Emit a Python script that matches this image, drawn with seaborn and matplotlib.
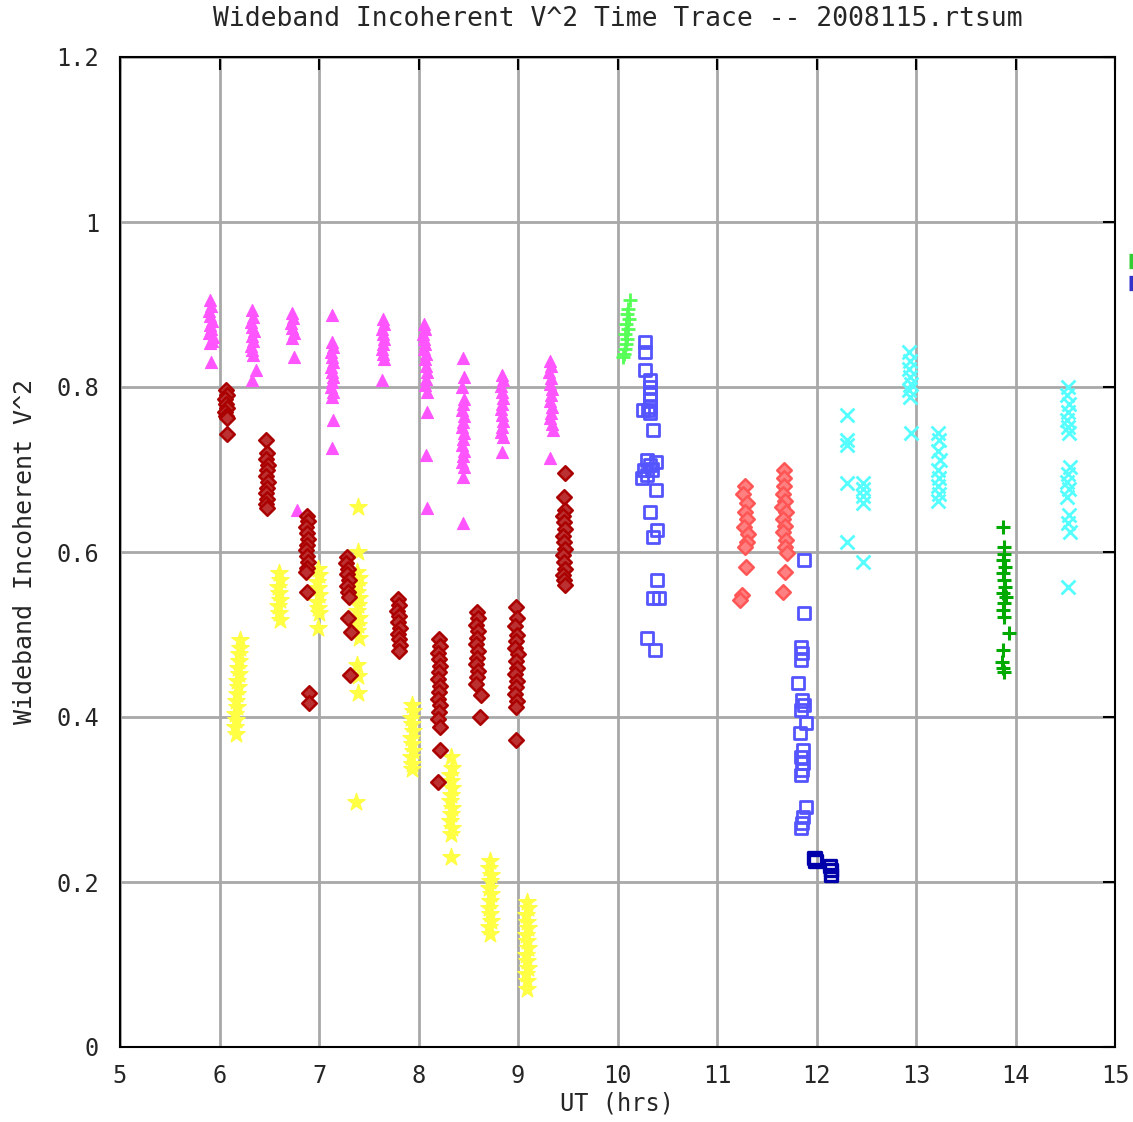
import numpy as np
import pandas as pd
import matplotlib
matplotlib.use("Agg")
import matplotlib.pyplot as plt
from matplotlib.lines import Line2D
import seaborn as sns

# magenta triangles
mag_x = [5.90, 5.91, 5.89, 5.90, 5.92, 5.90, 5.91, 5.89, 5.93, 5.92, 5.90, 5.91,
         6.33, 6.34, 6.32, 6.33, 6.35, 6.33, 6.34, 6.32, 6.33, 6.34, 6.37, 6.33,
         6.73, 6.74, 6.72, 6.73, 6.75, 6.73, 6.75, 6.78,
         7.13, 7.13, 7.14, 7.12, 7.13, 7.14, 7.12, 7.13, 7.14, 7.13, 7.12, 7.14, 7.13, 7.14, 7.13,
         7.64, 7.65, 7.63, 7.64, 7.65, 7.64, 7.63, 7.64, 7.65, 7.63,
         8.06, 8.07, 8.05, 8.06, 8.07, 8.06, 8.08, 8.07, 8.08, 8.09, 8.08, 8.07, 8.09, 8.09, 8.08, 8.09,
         8.45, 8.46, 8.44, 8.46, 8.45, 8.44, 8.46, 8.45, 8.44, 8.46, 8.45, 8.44, 8.46, 8.45, 8.44, 8.46, 8.45, 8.45,
         8.84, 8.85, 8.83, 8.84, 8.85, 8.84, 8.83, 8.84, 8.85, 8.84, 8.83, 8.85, 8.84,
         9.32, 9.33, 9.31, 9.33, 9.32, 9.34, 9.33, 9.32, 9.34, 9.33, 9.32, 9.34, 9.35, 9.32]
mag_y = [0.905, 0.898, 0.892, 0.886, 0.880, 0.875, 0.870, 0.866, 0.861, 0.856, 0.853, 0.830,
         0.893, 0.885, 0.879, 0.873, 0.868, 0.862, 0.856, 0.850, 0.845, 0.839, 0.821, 0.808,
         0.890, 0.884, 0.878, 0.872, 0.866, 0.860, 0.836, 0.651,
         0.887, 0.855, 0.848, 0.842, 0.836, 0.830, 0.824, 0.818, 0.812, 0.806, 0.800, 0.794, 0.788, 0.760, 0.726,
         0.882, 0.876, 0.870, 0.864, 0.858, 0.852, 0.846, 0.840, 0.834, 0.808,
         0.876, 0.870, 0.864, 0.858, 0.852, 0.846, 0.840, 0.834, 0.826, 0.818, 0.810, 0.802, 0.794, 0.770, 0.718, 0.653,
         0.835, 0.812, 0.800, 0.786, 0.779, 0.772, 0.765, 0.758, 0.751, 0.744, 0.737, 0.730, 0.723, 0.716, 0.709, 0.703, 0.691, 0.635,
         0.815, 0.808, 0.801, 0.794, 0.787, 0.780, 0.773, 0.766, 0.759, 0.752, 0.745, 0.739, 0.721,
         0.832, 0.825, 0.818, 0.811, 0.804, 0.797, 0.790, 0.783, 0.776, 0.769, 0.762, 0.755, 0.748, 0.714]

# dark red diamonds
red_x = [6.07, 6.08, 6.06, 6.07, 6.08, 6.06, 6.07, 6.08, 6.08,
         6.47, 6.48, 6.47, 6.49, 6.48, 6.47, 6.49, 6.48, 6.47, 6.48, 6.47, 6.48,
         6.88, 6.89, 6.87, 6.88, 6.89, 6.88, 6.87, 6.88, 6.89, 6.88, 6.87, 6.88, 6.90, 6.90,
         7.28, 7.27, 7.29, 7.28, 7.30, 7.28, 7.29, 7.30, 7.29, 7.32, 7.31,
         7.79, 7.80, 7.78, 7.80, 7.79, 7.81, 7.79, 7.80, 7.81, 7.80,
         8.21, 8.22, 8.20, 8.21, 8.22, 8.21, 8.20, 8.22, 8.21, 8.20, 8.22, 8.21, 8.20, 8.22, 8.22, 8.20,
         8.59, 8.60, 8.58, 8.60, 8.59, 8.58, 8.60, 8.59, 8.58, 8.60, 8.59, 8.58, 8.63, 8.62,
         8.98, 8.99, 8.97, 8.99, 8.98, 8.97, 9.00, 8.98, 8.99, 8.97, 8.99, 8.98, 8.97, 8.99, 8.98, 8.98,
         9.47, 9.46, 9.47, 9.45, 9.46, 9.47, 9.45, 9.46, 9.47, 9.45, 9.46, 9.47, 9.45, 9.46, 9.47]
red_y = [0.796, 0.790, 0.785, 0.780, 0.775, 0.770, 0.765, 0.762, 0.743,
         0.736, 0.720, 0.713, 0.706, 0.699, 0.692, 0.685, 0.678, 0.671, 0.664, 0.658, 0.653,
         0.644, 0.637, 0.630, 0.623, 0.616, 0.609, 0.602, 0.595, 0.588, 0.581, 0.576, 0.552, 0.429, 0.417,
         0.594, 0.587, 0.580, 0.573, 0.566, 0.559, 0.552, 0.545, 0.520, 0.503, 0.451,
         0.543, 0.536, 0.529, 0.522, 0.515, 0.508, 0.501, 0.494, 0.487, 0.480,
         0.494, 0.486, 0.478, 0.470, 0.462, 0.454, 0.446, 0.438, 0.430, 0.422, 0.414, 0.406, 0.398, 0.388, 0.360, 0.321,
         0.527, 0.520, 0.512, 0.504, 0.496, 0.488, 0.480, 0.472, 0.464, 0.456, 0.448, 0.440, 0.427, 0.400,
         0.533, 0.520, 0.510, 0.500, 0.492, 0.484, 0.476, 0.468, 0.460, 0.452, 0.444, 0.436, 0.428, 0.420, 0.412, 0.372,
         0.696, 0.667, 0.651, 0.644, 0.636, 0.628, 0.620, 0.612, 0.604, 0.596, 0.588, 0.580, 0.572, 0.566, 0.560]

# yellow stars
yel_x = [6.21, 6.21, 6.20, 6.20, 6.19, 6.20, 6.18, 6.19, 6.18, 6.17, 6.18, 6.16, 6.17, 6.16, 6.17,
         6.60, 6.61, 6.59, 6.60, 6.61, 6.59, 6.60, 6.61,
         6.99, 7.00, 6.98, 6.99, 7.00, 6.98, 6.99, 7.00, 6.99,
         7.39, 7.39, 7.38, 7.40, 7.39, 7.38, 7.40, 7.39, 7.38, 7.40, 7.39, 7.38, 7.40, 7.38, 7.39, 7.39, 7.37,
         7.93, 7.94, 7.92, 7.93, 7.94, 7.92, 7.93, 7.94, 7.92, 7.93, 7.93,
         8.33, 8.34, 8.32, 8.33, 8.34, 8.33, 8.32, 8.34, 8.33, 8.32, 8.34, 8.33, 8.33,
         8.72, 8.71, 8.73, 8.72, 8.71, 8.73, 8.72, 8.71, 8.72, 8.73, 8.71, 8.72,
         9.09, 9.10, 9.08, 9.09, 9.10, 9.08, 9.09, 9.10, 9.08, 9.09, 9.10, 9.08, 9.09, 9.09]
yel_y = [0.493, 0.484, 0.476, 0.468, 0.460, 0.452, 0.444, 0.436, 0.428, 0.420, 0.412, 0.404, 0.396, 0.388, 0.380,
         0.574, 0.566, 0.558, 0.550, 0.542, 0.534, 0.526, 0.518,
         0.580, 0.572, 0.564, 0.556, 0.548, 0.540, 0.532, 0.526, 0.508,
         0.655, 0.600, 0.576, 0.568, 0.560, 0.552, 0.544, 0.536, 0.528, 0.520, 0.512, 0.504, 0.496, 0.463, 0.450, 0.429, 0.297,
         0.415, 0.407, 0.399, 0.391, 0.383, 0.375, 0.367, 0.359, 0.351, 0.343, 0.337,
         0.352, 0.338, 0.330, 0.322, 0.314, 0.306, 0.298, 0.290, 0.282, 0.274, 0.266, 0.258, 0.230,
         0.225, 0.217, 0.209, 0.201, 0.193, 0.185, 0.177, 0.169, 0.161, 0.153, 0.145, 0.137,
         0.176, 0.168, 0.160, 0.152, 0.144, 0.136, 0.128, 0.120, 0.112, 0.104, 0.096, 0.088, 0.080, 0.070]

# light green plus
lgr_x = [10.13, 10.11, 10.10, 10.12, 10.09, 10.11, 10.08, 10.10, 10.09, 10.08, 10.07, 10.06]
lgr_y = [0.906, 0.895, 0.888, 0.882, 0.876, 0.870, 0.864, 0.858, 0.852, 0.846, 0.840, 0.836]

# blue squares
blu_x = [10.28, 10.28, 10.28, 10.33, 10.33, 10.33, 10.33, 10.33, 10.33, 10.26, 10.31, 10.36,
         10.30, 10.33, 10.27, 10.30, 10.25, 10.35, 10.39, 10.39, 10.33, 10.40, 10.36, 10.40,
         10.36, 10.42, 10.30, 10.38,
         11.87, 11.87, 11.84, 11.85, 11.84, 11.81, 11.85, 11.87, 11.84, 11.89, 11.83, 11.86,
         11.84, 11.86, 11.85, 11.84, 11.89, 11.86, 11.85, 11.84]
blu_y = [0.855, 0.842, 0.821, 0.808, 0.800, 0.792, 0.784, 0.776, 0.768, 0.772, 0.772, 0.748,
         0.711, 0.705, 0.699, 0.693, 0.690, 0.700, 0.709, 0.675, 0.648, 0.627, 0.618, 0.566,
         0.544, 0.544, 0.496, 0.481,
         0.590, 0.526, 0.485, 0.477, 0.469, 0.441, 0.420, 0.414, 0.408, 0.393, 0.381, 0.360,
         0.352, 0.344, 0.336, 0.330, 0.291, 0.279, 0.272, 0.265]

# dark blue squares
dbl_x = [11.98, 11.99, 12.14, 12.15, 12.15]
dbl_y = [0.229, 0.226, 0.219, 0.214, 0.208]

# salmon diamonds
sal_x = [11.28, 11.26, 11.30, 11.28, 11.30, 11.27, 11.31, 11.30, 11.28, 11.29, 11.25, 11.23,
         11.67, 11.67, 11.67, 11.66, 11.68, 11.65, 11.69, 11.66, 11.68, 11.66, 11.69, 11.68,
         11.70, 11.68, 11.66]
sal_y = [0.680, 0.670, 0.660, 0.648, 0.640, 0.630, 0.622, 0.612, 0.606, 0.582, 0.548, 0.542,
         0.700, 0.690, 0.680, 0.670, 0.662, 0.655, 0.648, 0.640, 0.632, 0.624, 0.614, 0.606,
         0.599, 0.576, 0.552]

# cyan crosses
cya_x = [12.31, 12.31, 12.31, 12.31, 12.31, 12.47, 12.47, 12.47, 12.47, 12.47,
         12.93, 12.94, 12.93, 12.94, 12.95, 12.93, 12.94, 12.95,
         13.22, 13.23, 13.22, 13.24, 13.22, 13.23, 13.22, 13.23, 13.22,
         14.53, 14.52, 14.54, 14.53, 14.52, 14.53, 14.54, 14.55, 14.53, 14.52, 14.54, 14.52,
         14.54, 14.53, 14.55, 14.53]
cya_y = [0.766, 0.736, 0.730, 0.684, 0.612, 0.684, 0.676, 0.668, 0.659, 0.588,
         0.842, 0.832, 0.822, 0.812, 0.804, 0.796, 0.788, 0.744,
         0.744, 0.736, 0.722, 0.712, 0.700, 0.690, 0.680, 0.670, 0.662,
         0.800, 0.790, 0.780, 0.770, 0.760, 0.752, 0.744, 0.703, 0.695, 0.685, 0.676, 0.667,
         0.645, 0.635, 0.624, 0.558]

# dark green plus
dgr_x = [13.87, 13.88, 13.88, 13.87, 13.89, 13.87, 13.88, 13.89, 13.87, 13.90, 13.88, 13.87,
         13.88, 13.93, 13.87, 13.86, 13.87, 13.88]
dgr_y = [0.630, 0.606, 0.598, 0.590, 0.582, 0.574, 0.566, 0.558, 0.550, 0.545, 0.538, 0.530,
         0.521, 0.502, 0.481, 0.467, 0.460, 0.455]

sns.set_style("white")
plt.rcParams["font.family"] = ["DejaVu Sans Mono"]

fig = plt.figure(figsize=(11.33, 11.22), dpi=100)
ax = fig.add_axes([120 / 1133, 75 / 1122, 995 / 1133, 990 / 1122])

ax.grid(True, color="#a8a8a8", linewidth=2)
ax.set_axisbelow(True)

sns.scatterplot(x=mag_x, y=mag_y, marker="^", color="#ff55ff", s=75, linewidth=0.8,
                edgecolor="#ff55ff", ax=ax)
sns.scatterplot(x=yel_x, y=yel_y, marker="*", color="#ffff44", s=170, linewidth=1.0,
                edgecolor="#ffff44", ax=ax)
sns.scatterplot(x=red_x, y=red_y, marker="D", s=55, facecolor="#bb3030",
                edgecolor="#aa0000", linewidth=1.8, ax=ax)
sns.scatterplot(x=lgr_x, y=lgr_y, marker="+", color="#55ff55", s=110, linewidth=2.0, ax=ax)
sns.scatterplot(x=blu_x, y=blu_y, marker="s", s=75, facecolor="none",
                edgecolor="#5555ff", linewidth=2.0, ax=ax)
sns.scatterplot(x=dbl_x, y=dbl_y, marker="s", s=75, facecolor="none",
                edgecolor="#0000aa", linewidth=2.4, ax=ax)
sns.scatterplot(x=sal_x, y=sal_y, marker="D", s=55, facecolor="#ff8080",
                edgecolor="#ff5555", linewidth=1.8, ax=ax)
sns.scatterplot(x=cya_x, y=cya_y, marker="x", color="#55ffff", s=100, linewidth=2.0, ax=ax)
sns.scatterplot(x=dgr_x, y=dgr_y, marker="+", color="#00aa00", s=110, linewidth=2.2, ax=ax)

ax.set_xlim(5, 15)
ax.set_ylim(0, 1.2)
ax.set_xticks(np.arange(5, 16, 1))
ax.set_yticks([0, 0.2, 0.4, 0.6, 0.8, 1.0, 1.2])
ax.set_yticklabels(["0", "0.2", "0.4", "0.6", "0.8", "1", "1.2"])
ax.tick_params(direction="in", length=9, width=1.5, labelsize=17, top=True, right=True,
               color="black")
ax.tick_params(axis="y", pad=15)
ax.tick_params(axis="x", pad=12)
for sp in ax.spines.values():
    sp.set_color("black")
    sp.set_linewidth(1.5)

ax.set_title("Wideband Incoherent V^2 Time Trace -- 2008115.rtsum", fontsize=19, pad=22)
ax.set_xlabel("UT (hrs)", fontsize=17, labelpad=3)
ax.set_ylabel("Wideband Incoherent V^2", fontsize=18, labelpad=14)

# legend mostly clipped by the right edge of the figure
handles = [Line2D([0], [0], color="#33cc33", linewidth=11, solid_capstyle="butt"),
           Line2D([0], [0], color="#3333cc", linewidth=11, solid_capstyle="butt")]
fig.legend(handles=handles, labels=["", ""], loc="upper left",
           bbox_to_anchor=(1129 / 1133, 1 - 255 / 1122), frameon=False,
           handlelength=2, labelspacing=0.6, borderaxespad=0, borderpad=0,
           handletextpad=0)

fig.savefig("out.png", dpi=100)
